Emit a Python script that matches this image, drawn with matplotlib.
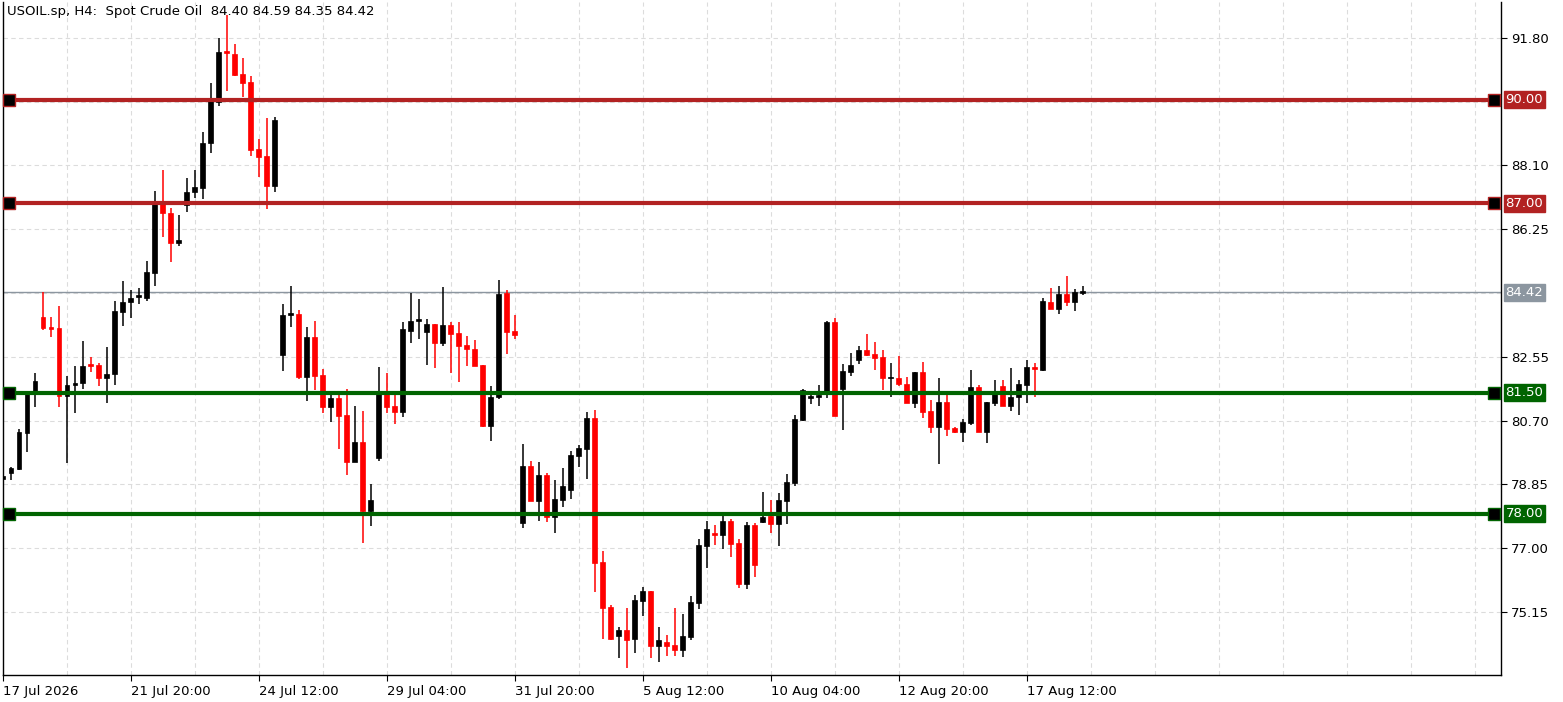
import matplotlib.pyplot as plt
from matplotlib.patches import Rectangle

# OHLC, one row per candle
opens = [79.00, 79.18, 79.30, 80.34, 81.50, 83.70, 83.42, 83.39, 81.41, 81.73,
         81.79, 82.34, 82.31, 81.94, 82.05, 83.85, 84.14, 84.29, 84.26, 84.98,
         87.00, 86.72, 85.85, 86.96, 87.33, 87.45, 88.75, 89.94, 91.42, 91.34,
         90.76, 90.52, 88.58, 88.38, 87.51, 82.60, 83.76, 83.79, 81.97, 83.13,
         82.02, 81.09, 81.36, 80.86, 79.50, 80.08, 78.08, 79.62, 81.47, 81.12,
         80.95, 83.30, 83.59, 83.27, 83.50, 82.95, 83.47, 83.24, 82.89, 82.78,
         82.31, 80.55, 81.38, 84.40, 83.30, 77.73, 79.38, 78.37, 79.12, 77.90,
         78.40, 78.69, 79.67, 79.88, 80.78, 76.60, 75.29, 74.45, 74.62, 74.36,
         75.47, 75.76, 74.16, 74.27, 74.19, 74.04, 74.42, 75.41, 77.06, 77.44,
         77.38, 77.79, 77.15, 75.96, 77.67, 77.76, 77.93, 77.70, 78.37, 78.89,
         80.72, 81.35, 81.38, 81.47, 83.56, 81.62, 82.11, 82.46, 82.75, 82.63,
         82.55, 81.92, 81.94, 81.76, 81.21, 82.11, 80.98, 80.52, 81.24, 80.49,
         80.37, 80.64, 81.67, 80.37, 81.21, 81.70, 81.12, 81.38, 81.73, 82.25,
         82.17, 84.14, 83.94, 84.37, 84.14, 84.40]
highs = [79.30, 79.35, 80.46, 81.50, 82.08, 84.43, 83.70, 84.03, 82.00, 82.28,
         83.01, 82.55, 82.37, 82.84, 84.17, 84.75, 84.49, 84.55, 85.33, 87.36,
         87.97, 86.87, 86.67, 87.74, 87.97, 89.07, 90.49, 91.80, 92.47, 91.63,
         91.22, 90.70, 88.87, 89.48, 89.51, 84.08, 84.60, 83.91, 83.42, 83.59,
         82.20, 81.47, 81.47, 81.62, 81.12, 80.98, 78.86, 82.25, 82.08, 81.44,
         83.56, 84.40, 84.23, 83.65, 83.50, 84.58, 83.56, 83.56, 83.15, 83.04,
         82.31, 81.70, 84.78, 84.49, 83.76, 80.02, 79.53, 79.50, 79.18, 78.98,
         79.33, 79.82, 80.00, 80.95, 81.01, 76.92, 75.35, 74.71, 75.26, 75.64,
         75.87, 75.76, 74.71, 74.48, 75.26, 75.09, 75.61, 77.27, 77.79, 77.67,
         77.96, 77.85, 77.27, 77.76, 77.73, 78.63, 78.40, 78.60, 79.15, 80.87,
         81.62, 81.50, 81.73, 83.59, 83.68, 82.34, 82.66, 82.86, 83.21, 82.98,
         82.75, 82.37, 82.57, 81.97, 82.11, 82.40, 81.30, 81.94, 81.44, 80.52,
         80.75, 82.17, 81.73, 81.24, 81.88, 81.88, 82.23, 81.88, 82.46, 82.37,
         84.26, 84.55, 84.61, 84.90, 84.52, 84.59]
lows = [78.00, 78.98, 79.27, 79.79, 81.09, 83.33, 83.13, 81.09, 79.47, 80.92,
        81.62, 82.11, 81.71, 81.21, 81.73, 83.45, 83.68, 84.09, 84.17, 84.61,
        86.03, 85.30, 85.77, 86.75, 87.16, 87.13, 88.46, 89.83, 90.26, 90.70,
        90.09, 88.38, 87.77, 86.84, 87.33, 82.14, 83.42, 81.91, 81.27, 81.59,
        80.92, 80.66, 79.88, 79.12, 79.50, 77.15, 77.64, 79.53, 80.92, 80.60,
        80.81, 82.95, 83.07, 82.31, 82.23, 82.86, 82.08, 81.82, 82.28, 82.28,
        80.52, 80.11, 81.33, 82.63, 83.07, 77.59, 78.37, 77.79, 77.76, 77.44,
        78.19, 78.43, 79.36, 79.01, 75.73, 74.36, 74.33, 73.81, 73.52, 73.96,
        75.03, 73.81, 73.70, 73.87, 73.87, 73.84, 74.33, 75.23, 76.42, 77.09,
        76.98, 76.74, 75.84, 75.81, 76.16, 77.73, 77.44, 77.06, 77.70, 78.80,
        80.70, 81.18, 81.12, 81.35, 80.84, 80.43, 81.99, 82.34, 82.57, 82.17,
        81.59, 81.38, 81.70, 81.21, 81.07, 80.78, 80.34, 79.44, 80.26, 80.34,
        80.08, 80.58, 80.37, 80.05, 81.12, 81.12, 80.98, 80.87, 81.21, 81.38,
        82.14, 83.94, 83.79, 84.03, 83.88, 84.35]
closes = [79.10, 79.33, 80.37, 81.50, 81.85, 83.39, 83.36, 81.41, 81.73, 81.79,
          82.28, 82.28, 81.94, 82.05, 83.88, 84.14, 84.26, 84.32, 85.01, 87.01,
          86.72, 85.85, 85.94, 87.33, 87.48, 88.75, 89.97, 91.39, 91.36, 90.73,
          90.49, 88.55, 88.35, 87.51, 89.42, 83.76, 83.79, 81.97, 83.13, 82.00,
          81.09, 81.36, 80.83, 79.50, 80.08, 78.08, 78.40, 81.47, 81.09, 80.95,
          83.36, 83.59, 83.65, 83.50, 82.95, 83.47, 83.21, 82.86, 82.78, 82.28,
          80.55, 81.38, 84.37, 83.27, 83.18, 79.38, 78.37, 79.12, 77.90, 78.43,
          78.80, 79.70, 79.91, 80.78, 76.57, 75.26, 74.36, 74.62, 74.33, 75.50,
          75.76, 74.16, 74.33, 74.16, 74.04, 74.45, 75.44, 77.09, 77.56, 77.38,
          77.79, 77.12, 75.96, 77.67, 76.51, 77.90, 77.70, 78.40, 78.92, 80.75,
          81.59, 81.41, 81.44, 83.56, 80.84, 82.14, 82.31, 82.75, 82.60, 82.52,
          81.94, 81.97, 81.76, 81.21, 82.11, 80.95, 80.52, 81.24, 80.46, 80.37,
          80.66, 81.67, 80.37, 81.24, 81.47, 81.12, 81.38, 81.76, 82.25, 82.20,
          84.17, 83.94, 84.37, 84.14, 84.43, 84.42]

price_ticks = [91.80, 88.10, 86.25, 82.55, 80.70, 78.85, 77.00, 75.15]
grid_prices = [91.80, 89.95, 88.10, 86.25, 84.40, 82.55, 80.70, 78.85, 77.00, 75.15]
date_labels = ["17 Jul 2026", "21 Jul 20:00", "24 Jul 12:00", "29 Jul 04:00",
               "31 Jul 20:00", "5 Aug 12:00", "10 Aug 04:00", "12 Aug 20:00",
               "17 Aug 12:00"]
resistance = [90.00, 87.00]
support = [81.50, 78.00]
last_price = 84.42
title = "USOIL.sp, H4:  Spot Crude Oil  84.40 84.59 84.35 84.42"

RED = "#b22222"
GREEN = "#006400"

fig = plt.figure(figsize=(15.63, 7.02), dpi=100)
ax = fig.add_axes([3 / 1563, 27 / 702, 1498 / 1563, 673 / 702])

# grid
for p in grid_prices:
    ax.axhline(p, color="#dcdcdc", lw=0.8, ls=(0, (4, 3)), zorder=0)
for g in range(8, 188, 8):
    ax.axvline(g, color="#dcdcdc", lw=0.8, ls=(0, (4, 3)), zorder=0)

# candles
w = 0.62
for i, (o, h, l, c) in enumerate(zip(opens, highs, lows, closes)):
    col = "black" if c >= o else "#ff0000"
    ax.vlines(i, l, h, color=col, lw=1.1, zorder=3)
    lo, hi = min(o, c), max(o, c)
    hgt = max(hi - lo, 0.05)
    ax.add_patch(Rectangle((i - w / 2, lo), w, hgt, facecolor=col,
                           edgecolor=col, lw=0.5, zorder=4))

# last price line
ax.axhline(last_price, color="#8c96a0", lw=1, zorder=2)

xmin, xmax = 0.04, 187.3
for levels, col in ((resistance, RED), (support, GREEN)):
    for lv in levels:
        ax.axhline(lv, color=col, lw=3, zorder=5)
        ax.plot([0.7, 186.4], [lv, lv], ls="none", marker="s", ms=8,
                mfc="black", mec=col, mew=1, zorder=6, clip_on=False)

ax.set_xlim(xmin, xmax)
ax.set_ylim(73.32, 92.84)
for s in ax.spines.values():
    s.set_color("black")
    s.set_linewidth(1)
ax.spines["top"].set_visible(False)

ax.yaxis.tick_right()
ax.set_yticks(price_ticks)
ax.set_yticklabels([f"{p:.2f}" for p in price_ticks], fontsize=9.5)
ax.tick_params(axis="y", length=4, pad=3)
ax.set_xticks(range(0, 129, 16))
ax.set_xticklabels(date_labels, fontsize=9.5, ha="left")
ax.tick_params(axis="x", length=4, pad=3)

# right-side price tags
for lv, col in [(90.00, RED), (87.00, RED), (81.50, GREEN), (78.00, GREEN),
                (last_price, "#8c96a0")]:
    ax.text(1.003, lv, f"{lv:.2f}", transform=ax.get_yaxis_transform(),
            ha="left", va="center", fontsize=9.5, color="white", zorder=7,
            bbox=dict(boxstyle="square,pad=0.15", fc=col, ec=col))

ax.text(0.003, 0.995, title, transform=ax.transAxes, ha="left", va="top",
        fontsize=9.5, color="black")

fig.savefig("out.png", dpi=100)
